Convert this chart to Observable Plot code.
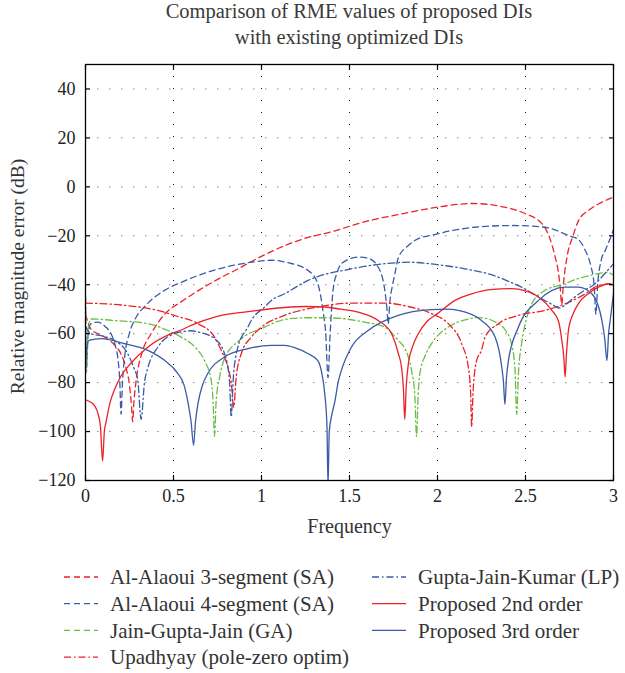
<!DOCTYPE html>
<html>
<head>
<meta charset="utf-8">
<script src="https://cdn.jsdelivr.net/npm/d3@7"></script>
<script src="https://cdn.jsdelivr.net/npm/@observablehq/plot@0.6"></script>
<style>
  html, body { margin: 0; padding: 0; background: #fff; }
  #wrap { position: relative; width: 625px; height: 673px; font-family: "Liberation Serif", "DejaVu Serif", serif; color: #333; }
  #title { position: absolute; left: 60px; width: 578px; top: -2px; text-align: center; font-size: 20.5px; line-height: 26px; color: #3a3a3a; }
  #chart { position: absolute; left: 0; top: 0; }
  #legend { position: absolute; left: 0; top: 560px; }
</style>
</head>
<body>
<div id="wrap">
  <div id="chart"></div>
  <div id="title">Comparison of RME values of proposed DIs<br>with existing optimized DIs</div>
  <div id="legend"></div>
</div>
<script>
// ---- data ----
const xTicks = [0, 0.5, 1, 1.5, 2, 2.5, 3];
const yTicks = [-120, -100, -80, -60, -40, -20, 0, 20, 40];

const seriesNames = [
  "Al-Alaoui 3-segment (SA)",
  "Al-Alaoui 4-segment (SA)",
  "Jain-Gupta-Jain (GA)",
  "Upadhyay (pole-zero optim)",
  "Gupta-Jain-Kumar (LP)",
  "Proposed 2nd order",
  "Proposed 3rd order"
];

const alaoui3 = [[0,-52],[0.03,-58],[0.1,-61],[0.17,-65],[0.2,-68],[0.23,-74],[0.25,-81],[0.262,-90],[0.268,-96],[0.275,-88],[0.29,-78],[0.32,-68],[0.373,-60],[0.45,-52],[0.543,-47],[0.65,-42],[0.733,-38.5],[0.866,-33.5],[0.97,-29.5],[1.1,-25],[1.25,-21],[1.4,-18.3],[1.6,-14],[1.8,-11],[2.0,-8.3],[2.2,-6.8],[2.38,-8.3],[2.5,-11],[2.593,-15],[2.63,-19.5],[2.668,-28.5],[2.687,-35],[2.697,-41],[2.706,-48],[2.715,-40],[2.735,-29],[2.77,-20],[2.8,-14],[2.86,-9.5],[2.915,-7],[3.0,-4.2]];

const alaoui4 = [[0,-45],[0.006,-74],[0.015,-60],[0.03,-56],[0.069,-55.3],[0.11,-57],[0.145,-60],[0.17,-65],[0.183,-69.5],[0.195,-80],[0.202,-93],[0.21,-80],[0.225,-68],[0.249,-60],[0.29,-53],[0.335,-49],[0.449,-42.3],[0.545,-39],[0.733,-34],[0.942,-30.8],[1.057,-30],[1.15,-31],[1.265,-34.2],[1.32,-39.6],[1.35,-51],[1.365,-60],[1.378,-78],[1.39,-60],[1.407,-42],[1.43,-35],[1.454,-31.4],[1.549,-28.7],[1.606,-29.2],[1.663,-32.8],[1.70,-42],[1.713,-50],[1.72,-56],[1.728,-48],[1.745,-40],[1.758,-35.5],[1.777,-29],[1.834,-24],[1.871,-21.9],[2.0,-19.2],[2.213,-16.5],[2.42,-15.8],[2.61,-16.5],[2.745,-19.9],[2.8,-21.5],[2.84,-26],[2.87,-32],[2.89,-40],[2.9,-52],[2.91,-40],[2.93,-30],[2.953,-26],[2.99,-19.5],[3.0,-17.5]];

const jainGuptaJain = [[0,-45],[0.005,-76],[0.015,-58],[0.031,-54],[0.164,-54.6],[0.354,-55.9],[0.468,-58.7],[0.544,-61.4],[0.6,-64],[0.639,-66.8],[0.676,-71],[0.714,-79],[0.725,-88],[0.733,-102],[0.742,-88],[0.762,-77.7],[0.79,-70.2],[0.875,-62.7],[1.018,-57.3],[1.131,-54.2],[1.25,-53.5],[1.36,-53.5],[1.48,-54],[1.587,-55.3],[1.70,-57.3],[1.777,-62.7],[1.814,-66],[1.834,-69.5],[1.855,-76],[1.871,-85],[1.881,-102],[1.89,-85],[1.90,-76.3],[1.93,-69],[1.966,-64.1],[2.061,-57.3],[2.15,-54.5],[2.232,-53.4],[2.346,-55.9],[2.39,-59],[2.42,-64.1],[2.44,-74],[2.45,-93],[2.46,-76],[2.478,-64],[2.505,-54],[2.535,-47.8],[2.611,-42.3],[2.706,-40],[2.8,-37.5],[2.877,-36],[2.96,-35],[3.0,-36]];

const upadhyay = [[0,-47.5],[0.221,-48.4],[0.41,-50.5],[0.525,-53],[0.639,-55.9],[0.733,-61.4],[0.771,-66.8],[0.81,-74],[0.828,-80],[0.842,-90],[0.856,-78],[0.885,-68.2],[0.942,-61.4],[1.0,-57.3],[1.131,-52.5],[1.32,-49.1],[1.511,-47.5],[1.70,-47.5],[1.834,-48.9],[1.966,-51.8],[2.061,-55.9],[2.137,-64.1],[2.175,-73.6],[2.188,-84],[2.194,-98],[2.202,-84],[2.222,-71],[2.25,-66.8],[2.27,-61.4],[2.346,-55.9],[2.46,-52.5],[2.611,-50.5],[2.725,-47.8],[2.84,-43.7],[2.915,-40.3],[3.0,-39.6]];

const guptaJainKumar = [[0,-57],[0.031,-60],[0.1,-61],[0.164,-62.7],[0.24,-68.2],[0.275,-74],[0.297,-79],[0.316,-95],[0.335,-80],[0.354,-74],[0.411,-65.5],[0.505,-60],[0.544,-59.3],[0.6,-58.8],[0.639,-59.3],[0.733,-62],[0.79,-68.2],[0.818,-79],[0.828,-94],[0.84,-78],[0.866,-65.5],[0.923,-57.3],[0.942,-54.6],[1.018,-49.1],[1.056,-46.4],[1.131,-43.7],[1.265,-38.2],[1.511,-33.5],[1.70,-31.4],[1.84,-30.8],[2.0,-31.8],[2.156,-33.5],[2.31,-36],[2.40,-38.5],[2.478,-41],[2.574,-45],[2.65,-48],[2.69,-49.5],[2.73,-48],[2.763,-46],[2.83,-42.5],[2.896,-39.6],[2.95,-35.5],[3.0,-31.4]];

const proposed2 = [[0,-87],[0.03,-88],[0.05,-89.3],[0.07,-92.5],[0.085,-98],[0.097,-112],[0.107,-100],[0.117,-96],[0.14,-88],[0.164,-83],[0.2,-77.5],[0.259,-72],[0.354,-65.5],[0.487,-60],[0.544,-58.5],[0.6,-56.6],[0.733,-53.2],[0.923,-51],[1.131,-49.3],[1.25,-48.9],[1.36,-49.1],[1.45,-50],[1.549,-51.2],[1.663,-54.6],[1.739,-60],[1.777,-68],[1.796,-74],[1.806,-82],[1.814,-95],[1.822,-82],[1.835,-72],[1.86,-65],[1.891,-60],[1.94,-55],[2.0,-51.8],[2.1,-46.4],[2.194,-43.7],[2.3,-42],[2.42,-41.6],[2.5,-42.5],[2.574,-45],[2.65,-50.5],[2.688,-55],[2.705,-62],[2.718,-70],[2.725,-77.7],[2.733,-68],[2.745,-58],[2.77,-52],[2.8,-47.8],[2.86,-43.5],[2.915,-41],[2.972,-39.6],[3.0,-40]];

const proposed3 = [[0,-75],[0.006,-66],[0.02,-62.7],[0.088,-62],[0.221,-64.1],[0.354,-66.8],[0.449,-70.9],[0.525,-76.3],[0.56,-81],[0.582,-88],[0.6,-96],[0.614,-105.6],[0.625,-96],[0.639,-88.6],[0.665,-81],[0.695,-76.3],[0.79,-69.5],[0.923,-66.1],[1.056,-64.8],[1.131,-64.8],[1.188,-65.7],[1.265,-68.2],[1.32,-71],[1.345,-77],[1.36,-85],[1.372,-98],[1.378,-122],[1.385,-100],[1.40,-93],[1.416,-88],[1.435,-80],[1.454,-75],[1.511,-65.5],[1.606,-58.7],[1.777,-52.5],[1.966,-50.2],[2.05,-50],[2.118,-50.5],[2.25,-54.6],[2.327,-61.4],[2.365,-73.6],[2.375,-80],[2.383,-89],[2.392,-78],[2.403,-71],[2.46,-57.3],[2.574,-46.4],[2.725,-41],[2.80,-41],[2.877,-43.7],[2.934,-54.6],[2.95,-62],[2.963,-71],[2.972,-60],[2.981,-54.6],[3.0,-43.7]];

// ---- styles ----
const RED = "#ec2127", BLUE = "#3a5ba7", GREEN = "#6cbd45";
const DASH = "6,4", DASHDOT = "7,3,1.5,3";
const seriesList = [
  {name: seriesNames[0], data: alaoui3, color: RED, dash: DASH, legendDash: DASH},
  {name: seriesNames[1], data: alaoui4, color: BLUE, dash: DASH, legendDash: DASH},
  {name: seriesNames[2], data: jainGuptaJain, color: GREEN, dash: DASHDOT, legendDash: DASH},
  {name: seriesNames[3], data: upadhyay, color: RED, dash: DASHDOT, legendDash: DASHDOT},
  {name: seriesNames[4], data: guptaJainKumar, color: BLUE, dash: DASHDOT, legendDash: DASHDOT},
  {name: seriesNames[5], data: proposed2, color: RED, dash: null, legendDash: null},
  {name: seriesNames[6], data: proposed3, color: BLUE, dash: null, legendDash: null}
];

const lineMarks = seriesList.map(s => Plot.line(s.data, {
  x: d => d[0], y: d => d[1],
  stroke: s.color, strokeWidth: 1.3,
  strokeDasharray: s.dash || undefined,
  curve: "monotone-x", clip: true
}));

const chart = Plot.plot({
  width: 625,
  height: 540,
  marginLeft: 85,
  marginRight: 12,
  marginTop: 64,
  marginBottom: 60,
  style: {fontFamily: "'Liberation Serif', serif", fontSize: "18px", color: "#222", background: "transparent", overflow: "visible"},
  x: {domain: [0, 3]},
  y: {domain: [-120, 50]},
  marks: [
    Plot.gridX(xTicks, {stroke: "#000", strokeOpacity: 0.9, strokeDasharray: "1,11"}),
    Plot.gridY(yTicks, {stroke: "#888", strokeOpacity: 1, strokeDasharray: "1.5,10.5"}),
    ...lineMarks,
    Plot.axisX(xTicks, {anchor: "bottom", tickSize: -5, tickPadding: 14, fontSize: 18, tickFormat: d => String(d), label: null, stroke: "#000", strokeWidth: 1.2}),
    Plot.axisX(xTicks, {anchor: "top", tickSize: -5, tickFormat: () => "", label: null, stroke: "#000", strokeWidth: 1.2}),
    Plot.axisY(yTicks, {anchor: "left", tickSize: -5, tickPadding: 15, fontSize: 18, tickFormat: d => d < 0 ? "\u2212" + Math.abs(d) : String(d), label: null, stroke: "#000", strokeWidth: 1.2}),
    Plot.axisY(yTicks, {anchor: "right", tickSize: -5, tickFormat: () => "", label: null, stroke: "#000", strokeWidth: 1.2}),
    Plot.frame({stroke: "#000", strokeWidth: 1.3}),
    Plot.text(["Frequency"], {frameAnchor: "bottom", dy: 52, lineAnchor: "bottom", fontSize: 20, fill: "#333"}),
    Plot.text(["Relative magnitude error (dB)"], {frameAnchor: "left", textAnchor: "middle", rotate: -90, dx: -68, dy: 4, fontSize: 19.5, fill: "#333"})
  ]
});
document.getElementById("chart").appendChild(chart);

// ---- legend ----
const legendPos = [
  {col: 0, row: 0}, {col: 0, row: 1}, {col: 0, row: 2}, {col: 0, row: 3},
  {col: 1, row: 0}, {col: 1, row: 1}, {col: 1, row: 2}
];
const lsvg = d3.select("#legend").append("svg").attr("width", 625).attr("height", 113)
  .style("font-family", "'Liberation Serif', serif").style("font-size", "21px");
seriesList.forEach((s, i) => {
  const p = legendPos[i];
  const x0 = p.col === 0 ? 64 : 372;
  const y0 = 17 + p.row * 26.7;
  const g = lsvg.append("g").attr("transform", `translate(${x0},${y0})`);
  g.append("line").attr("x1", 0).attr("x2", 34).attr("y1", 0).attr("y2", 0)
    .attr("stroke", s.color).attr("stroke-width", 1.3).attr("stroke-dasharray", s.legendDash);
  g.append("text").attr("x", 46).attr("y", 0).attr("dy", "0.35em").attr("fill", "#333").text(s.name);
});
</script>
</body>
</html>
